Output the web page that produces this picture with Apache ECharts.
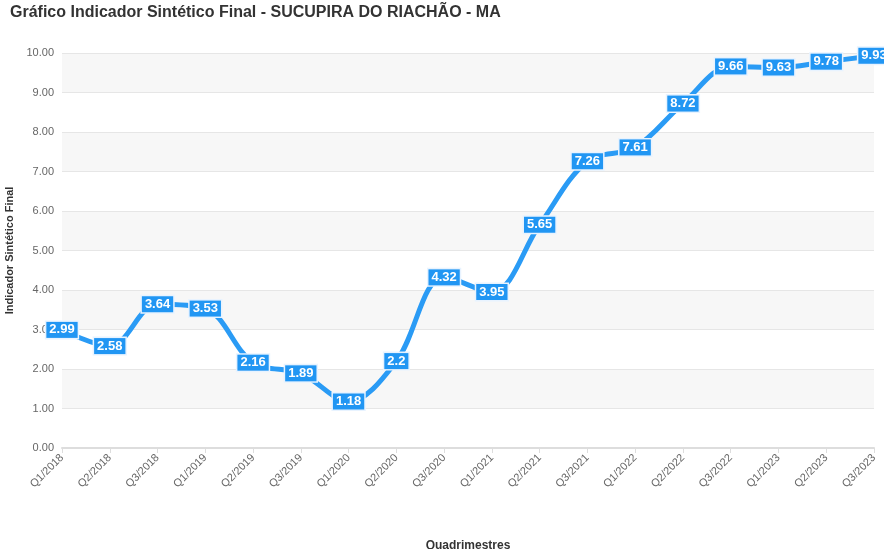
<!DOCTYPE html>
<html>
<head>
<meta charset="utf-8">
<script src="https://cdn.jsdelivr.net/npm/echarts@6/dist/echarts.min.js"></script>
<style>
html, body { margin: 0; padding: 0; background: #fff; }
#grafico { width: 884px; height: 549px; }
</style>
</head>
<body>
<div id="grafico"></div>
<script>
// dados do indicador
var categorias = ["Q1/2018", "Q2/2018", "Q3/2018", "Q1/2019", "Q2/2019", "Q3/2019",
	"Q1/2020", "Q2/2020", "Q3/2020", "Q1/2021", "Q2/2021", "Q3/2021",
	"Q1/2022", "Q2/2022", "Q3/2022", "Q1/2023", "Q2/2023", "Q3/2023"];
var valores = [2.99, 2.58, 3.64, 3.53, 2.16, 1.89, 1.18, 2.2, 4.32, 3.95,
	5.65, 7.26, 7.61, 8.72, 9.66, 9.63, 9.78, 9.93];
var eixoY = { min: 0, max: 10, intervalo: 1 };

var myChart = echarts.init(document.getElementById("grafico"));

var option = {
	animation : false,
	title : {
		text : 'Gráfico Indicador Sintético Final - SUCUPIRA DO RIACHÃO - MA',
		left : 5,
		top : 0,
		textStyle : {
			color : '#333',
			fontSize : 16,
			fontWeight : 'bold',
			fontFamily : 'Arial, Liberation Sans, sans-serif'
		}
	},
	grid : {
		left : 62,
		right : 10,
		top : 53,
		bottom : 101,
		outerBoundsMode : 'none',
		containLabel : false
	},
	xAxis : {
		type : 'category',
		data : categorias,
		boundaryGap : false,
		name : 'Quadrimestres',
		nameLocation : 'middle',
		nameGap : 92,
		nameTextStyle : {
			color : '#333',
			fontSize : 12,
			fontWeight : 'bold',
			fontFamily : 'Arial, Liberation Sans, sans-serif'
		},
		axisLine : { lineStyle : { color : '#ddd', width : 2 } },
		axisTick : { show : true, alignWithLabel : true, lineStyle : { color : '#ddd' } },
		axisLabel : {
			rotate : 45,
			color : '#666',
			fontSize : 11,
			interval : 0,
			fontFamily : 'Arial, Liberation Sans, sans-serif'
		}
	},
	yAxis : {
		type : 'value',
		min : eixoY.min,
		max : eixoY.max,
		interval : eixoY.intervalo,
		name : 'Indicador Sintético Final',
		nameLocation : 'middle',
		nameGap : 41,
		nameTextStyle : {
			color : '#333',
			fontSize : 11,
			fontWeight : 'bold',
			fontFamily : 'Arial, Liberation Sans, sans-serif'
		},
		axisLine : { show : false },
		axisTick : { show : false },
		axisLabel : {
			color : '#666',
			fontSize : 11,
			fontFamily : 'Arial, Liberation Sans, sans-serif',
			formatter : function(v) { return v.toFixed(2); }
		},
		splitLine : { lineStyle : { color : '#e6e6e6' } },
		splitArea : {
			show : true,
			areaStyle : { color : [ '#ffffff', '#f7f7f7' ] }
		}
	},
	series : [ {
		name : 'Indicador',
		type : 'line',
		data : valores,
		smooth : 0.35,
		symbol : 'circle',
		symbolSize : 4,
		lineStyle : { color : '#2A9BF5', width : 5 },
		itemStyle : { color : '#2A9BF5' },
		label : {
			show : true,
			position : 'inside',
			color : '#fff',
			fontSize : 13,
			fontWeight : 'bold',
			fontFamily : 'Arial, Liberation Sans, sans-serif',
			backgroundColor : '#2196F3',
			borderColor : '#e8f3ff',
			borderWidth : 1.5,
			padding : [ 2, 3, 1, 3 ]
		}
	} ]
};

myChart.setOption(option);
</script>
</body>
</html>
